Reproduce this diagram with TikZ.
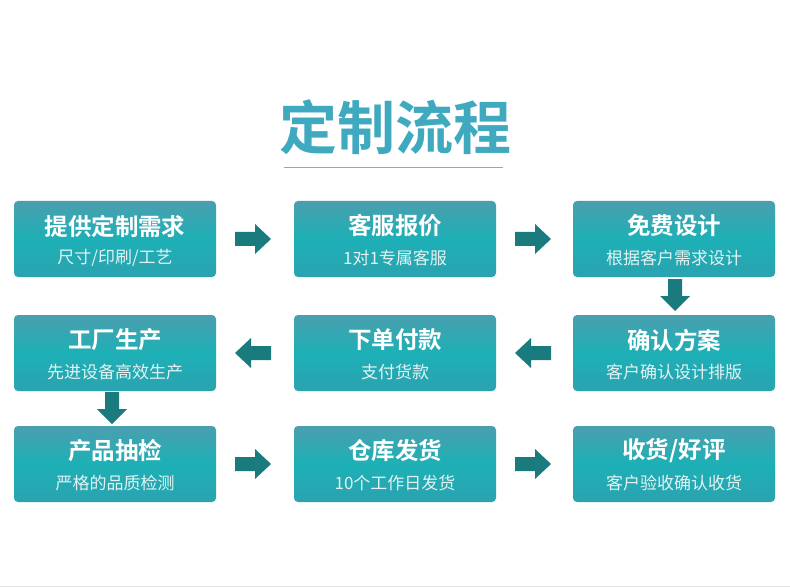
\documentclass[tikz,border=0pt]{standalone}
\usepackage{fontspec}
\newfontfamily\cjk{Noto Sans CJK SC}
\newfontfamily\cjkb{Noto Sans CJK SC Bold}
\usetikzlibrary{shadows,shadings}
\definecolor{boxtop}{HTML}{4A9FAE}
\definecolor{boxmid}{HTML}{1DB0B6}
\definecolor{boxbot}{HTML}{2AA3B0}
\definecolor{arrowc}{HTML}{1A7B7E}
\definecolor{titlec}{HTML}{3FA9C0}
\definecolor{subc}{HTML}{E3F3F3}
\tikzset{
  stepbox/.style={rounded corners=4pt, minimum width=202pt, minimum height=76pt,
    top color=boxtop, bottom color=boxbot, middle color=boxmid, draw=none, inner sep=0pt},
  maintxt/.style={text=white, font=\cjkb\fontsize{23.5}{26}\selectfont},
  subtxt/.style={text=subc, font=\cjk\fontsize{17}{18}\selectfont},
  blockarrow/.style={fill=arrowc, draw=none}
}
\newcommand{\rarrow}[2]{% center x,y
  \fill[blockarrow] (#1-18,#2-7) -- (#1+2,#2-7) -- (#1+2,#2-15) -- (#1+18,#2) -- (#1+2,#2+15) -- (#1+2,#2+7) -- (#1-18,#2+7) -- cycle;}
\newcommand{\larrow}[2]{%
  \fill[blockarrow] (#1+18,#2-7) -- (#1-2,#2-7) -- (#1-2,#2-15) -- (#1-18,#2) -- (#1-2,#2+15) -- (#1-2,#2+7) -- (#1+18,#2+7) -- cycle;}
\newcommand{\darrow}[2]{%
  \fill[blockarrow] (#1-7,#2-16) -- (#1-7,#2+1) -- (#1-15,#2+1) -- (#1,#2+16) -- (#1+15,#2+1) -- (#1+7,#2+1) -- (#1+7,#2-16) -- cycle;}
\begin{document}
\begin{tikzpicture}[x=1pt,y=-1pt]
\useasboundingbox (0,0) rectangle (790,588);
\fill[white] (0,0) rectangle (790,588);
\draw[gray!20, line width=1.5pt] (0,586.5) -- (790,586.5);
% title
\node[text=titlec, font=\cjkb\fontsize{58}{60}\selectfont] (title) at (395,127) {定制流程};
\draw[titlec!80, line width=1pt] (284,168) -- (503,168);
% boxes
\def\boxnode#1#2#3#4#5{%
  \node[stepbox] (#1) at (#2,#3) {};
  \node[maintxt] (#1m) at (#2,#3-13) {#4};
  \node[subtxt] (#1s) at (#2,#3+19) {#5};}
\boxnode{b1}{115}{239}{提供定制需求}{尺寸/印刷/工艺}
\boxnode{b2}{395}{239}{客服报价}{1对1专属客服}
\boxnode{b3}{674}{239}{免费设计}{根据客户需求设计}
\boxnode{b4}{115}{353}{工厂生产}{先进设备高效生产}
\boxnode{b5}{395}{353}{下单付款}{支付货款}
\boxnode{b6}{674}{353}{确认方案}{客户确认设计排版}
\boxnode{b7}{115}{464}{产品抽检}{严格的品质检测}
\boxnode{b8}{395}{464}{仓库发货}{10个工作日发货}
\boxnode{b9}{674}{464}{收货/好评}{客户验收确认收货}
% arrows
\rarrow{253}{239}
\rarrow{533}{239}
\darrow{675}{295}
\larrow{533}{353}
\larrow{253}{353}
\darrow{112}{408}
\rarrow{253}{464}
\rarrow{533}{464}
\end{tikzpicture}
\end{document}
